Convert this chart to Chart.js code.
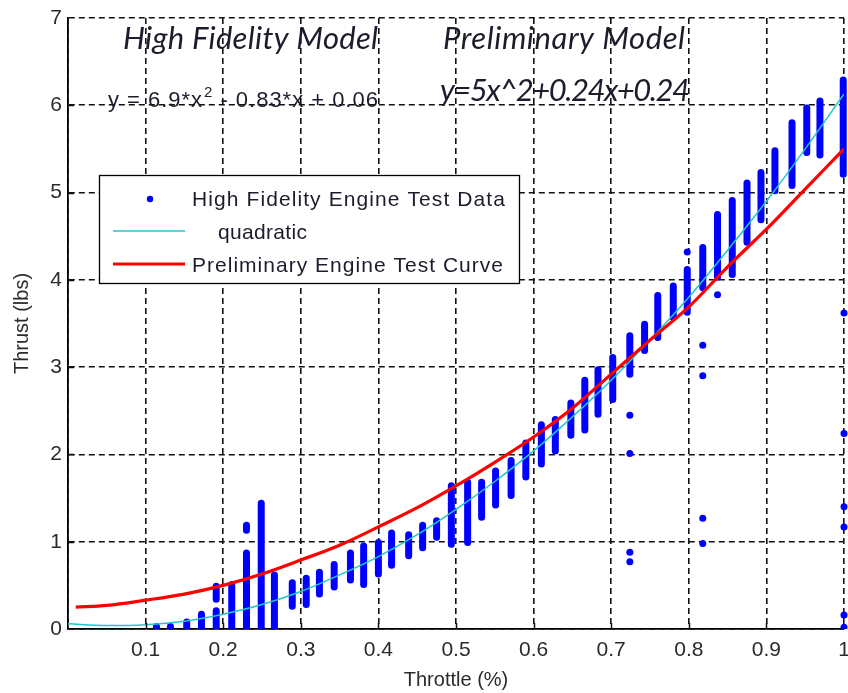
<!DOCTYPE html>
<html>
<head>
<meta charset="utf-8">
<script src="https://cdn.jsdelivr.net/npm/chart.js@4"></script>
<style>
  html, body { margin: 0; padding: 0; background: #fff; }
  #wrap { width: 848px; height: 693px; position: relative; }
</style>
</head>
<body>
<div id="wrap"><canvas id="c"></canvas></div>
<script>
// test data columns: throttle value, lowest and highest thrust reading in that column
const colX    = [0.114, 0.132, 0.153, 0.172, 0.191, 0.191, 0.211, 0.23, 0.23, 0.249, 0.266, 0.289, 0.307, 0.324, 0.343, 0.364, 0.381, 0.4, 0.417, 0.439, 0.457, 0.475, 0.494, 0.515, 0.533, 0.551, 0.571, 0.59, 0.61, 0.628, 0.648, 0.666, 0.683, 0.702, 0.724, 0.743, 0.76, 0.78, 0.798, 0.818, 0.837, 0.856, 0.875, 0.893, 0.911, 0.933, 0.952, 0.969, 0.999];
const colLow  = [0, 0, 0, 0, 0, 0.34, 0, 0, 1.13, 0, 0, 0.26, 0.28, 0.4, 0.48, 0.56, 0.51, 0.63, 0.73, 0.84, 0.93, 1.05, 0.97, 0.99, 1.28, 1.42, 1.53, 1.74, 1.89, 2.04, 2.22, 2.28, 2.46, 2.63, 2.92, 3.19, 3.34, 3.57, 3.63, 3.91, 4.03, 4.06, 4.43, 4.69, 5.02, 5.08, 5.46, 5.43, 5.21];
const colHigh = [0.03, 0.03, 0.08, 0.17, 0.21, 0.49, 0.51, 0.87, 1.19, 1.44, 0.62, 0.53, 0.58, 0.65, 0.74, 0.87, 0.95, 0.99, 1.1, 1.08, 1.19, 1.24, 1.64, 1.68, 1.68, 1.81, 1.93, 2.13, 2.34, 2.4, 2.59, 2.85, 2.97, 3.11, 3.36, 3.49, 3.82, 3.93, 4.12, 4.37, 4.75, 4.91, 5.11, 5.23, 5.48, 5.8, 5.97, 6.05, 6.29];

// stray test points
const outX = [0.724, 0.724, 0.724, 0.724, 0.798, 0.818, 0.818, 0.818, 0.818, 0.837, 1, 1, 1, 1, 1, 1];
const outY = [2.45, 2.01, 0.88, 0.77, 4.32, 3.25, 2.9, 1.27, 0.98, 3.83, 3.62, 2.24, 1.4, 1.17, 0.16, 0.02];

// fitted curves
const quadX = [0, 0.05, 0.1, 0.15, 0.2, 0.25, 0.3, 0.35, 0.4, 0.45, 0.5, 0.55, 0.6, 0.65, 0.7, 0.75, 0.8, 0.85, 0.9, 0.95, 1];
const quadY = [0.06, 0.04, 0.05, 0.09, 0.17, 0.28, 0.43, 0.62, 0.83, 1.08, 1.37, 1.69, 2.04, 2.43, 2.85, 3.31, 3.8, 4.34, 4.9, 5.5, 6.13];
const prelimX = [0.01, 0.05, 0.1, 0.15, 0.2, 0.25, 0.3, 0.35, 0.4, 0.45, 0.5, 0.55, 0.6, 0.65, 0.7, 0.75, 0.8, 0.85, 0.9, 0.95, 1];
const prelimY = [0.25, 0.27, 0.33, 0.4, 0.5, 0.63, 0.79, 0.96, 1.17, 1.39, 1.64, 1.91, 2.2, 2.53, 2.92, 3.31, 3.69, 4.15, 4.58, 5.04, 5.5];

const xTickVals = [0, 0.1, 0.2, 0.3, 0.4, 0.5, 0.6, 0.7, 0.8, 0.9, 1];
const xTickLabels = ['', '0.1', '0.2', '0.3', '0.4', '0.5', '0.6', '0.7', '0.8', '0.9', '1'];
const yTickVals = [0, 1, 2, 3, 4, 5, 6, 7];
const yTickLabels = ['0', '1', '2', '3', '4', '5', '6', '7'];

const SANS = '"Liberation Sans", Arial, sans-serif';
const INK = '#2b2b2b';
const NOTE = '#1c1c2c';

// each column becomes one thick segment, nulls break the line between columns
const colData = [];
for (let i = 0; i < colX.length; i += 1) {
  colData.push({ x: colX[i], y: colLow[i] });
  colData.push({ x: colX[i], y: colHigh[i] });
  colData.push({ x: colX[i], y: null });
}
const outData = outX.map((x, i) => ({ x, y: outY[i] }));
const quadData = quadX.map((x, i) => ({ x, y: quadY[i] }));
const prelimData = prelimX.map((x, i) => ({ x, y: prelimY[i] }));

// stretch text to a given width with letter spacing (matlab spreads its glyphs)
function fitText(c, text, x, y, w) {
  c.letterSpacing = '0px';
  const base = c.measureText(text).width;
  const sp = (w - base) / Math.max(text.length - 1, 1);
  c.letterSpacing = sp.toFixed(2) + 'px';
  c.fillText(text, x, y);
  c.letterSpacing = '0px';
}

const notes = {
  id: 'notes',
  beforeDatasetsDraw(chart) {
    const c = chart.ctx;
    c.save();
    c.fillStyle = NOTE;
    c.textBaseline = 'alphabetic';
    c.textAlign = 'left';
    c.font = 'italic 31px Lato';
    fitText(c, 'High Fidelity Model', 123, 49, 255);
    fitText(c, 'Preliminary Model', 443, 49, 242);
    fitText(c, 'y=5x^2+0.24x+0.24', 440, 101, 250);

    // plain equation with superscript, spread to the same width as the original
    const a = 'y = 6.9*x';
    const b = ' - 0.83*x + 0.06';
    c.letterSpacing = '0px';
    c.font = '22px ' + SANS;
    const wa = c.measureText(a).width;
    const wb = c.measureText(b).width;
    c.font = '15px ' + SANS;
    const w2 = c.measureText('2').width;
    const sp = (270 - wa - wb - w2 - 2) / (a.length + b.length - 1);
    c.letterSpacing = sp.toFixed(2) + 'px';
    let x = 108;
    c.font = '22px ' + SANS;
    c.fillText(a, x, 107);
    x += c.measureText(a).width + 1;
    c.font = '15px ' + SANS;
    c.fillText('2', x, 97);
    x += w2 + 1;
    c.font = '22px ' + SANS;
    c.fillText(b, x, 107);
    c.letterSpacing = '0px';
    c.restore();
  },
  afterDatasetsDraw(chart) {
    const c = chart.ctx;
    const { left, bottom } = chart.chartArea;
    c.save();
    // inward tick marks
    c.strokeStyle = '#111';
    c.lineWidth = 1.5;
    c.beginPath();
    const xs = chart.scales.x;
    const ys = chart.scales.y;
    for (const v of xTickVals.slice(1, -1)) {
      const px = Math.round(xs.getPixelForValue(v)) + 0.5;
      c.moveTo(px, bottom);
      c.lineTo(px, bottom - 6);
    }
    for (const v of yTickVals.slice(1, -1)) {
      const py = Math.round(ys.getPixelForValue(v)) + 0.5;
      c.moveTo(left, py);
      c.lineTo(left + 6, py);
    }
    c.stroke();

    // legend box
    c.fillStyle = '#fff';
    c.fillRect(99.5, 175.5, 420, 108);
    c.strokeStyle = '#000';
    c.lineWidth = 1.3;
    c.strokeRect(99.5, 175.5, 420, 108);

    c.fillStyle = '#0000ff';
    c.beginPath();
    c.arc(150, 199, 3.2, 0, Math.PI * 2);
    c.fill();

    c.strokeStyle = '#20c8c8';
    c.lineWidth = 1.5;
    c.beginPath();
    c.moveTo(113, 231);
    c.lineTo(185, 231);
    c.stroke();

    c.strokeStyle = '#ff0000';
    c.lineWidth = 3;
    c.beginPath();
    c.moveTo(113, 264);
    c.lineTo(185, 264);
    c.stroke();

    c.fillStyle = NOTE;
    c.font = '21px ' + SANS;
    c.textBaseline = 'middle';
    fitText(c, 'High Fidelity Engine Test Data', 192, 200, 313);
    fitText(c, 'quadratic', 218, 233, 89);
    fitText(c, 'Preliminary Engine Test Curve', 192, 266, 311);
    c.restore();
  },
};

const gridOpts = { color: '#111', lineWidth: 1.6, drawTicks: false };
const borderOpts = { display: true, color: '#000', width: 1.8, dash: [6, 4] };

new Chart(document.getElementById('c').getContext('2d'), {
  type: 'scatter',
  data: {
    datasets: [
      {
        label: 'High Fidelity Engine Test Data',
        data: colData,
        showLine: true,
        spanGaps: false,
        borderColor: '#0000ff',
        borderWidth: 7,
        borderCapStyle: 'round',
        pointRadius: 0,
        order: 3,
        clip: { left: 0, top: 0, right: 4, bottom: 0 },
      },
      {
        label: 'stray',
        data: outData,
        pointRadius: 3.5,
        backgroundColor: '#0000ff',
        borderWidth: 0,
        order: 3,
        clip: { left: 0, top: 0, right: 4, bottom: 0 },
      },
      {
        label: 'quadratic',
        data: quadData,
        showLine: true,
        borderColor: '#20c8c8',
        borderWidth: 1.5,
        pointRadius: 0,
        cubicInterpolationMode: 'monotone',
        order: 2,
      },
      {
        label: 'Preliminary Engine Test Curve',
        data: prelimData,
        showLine: true,
        borderColor: '#ff0000',
        borderWidth: 3.2,
        pointRadius: 0,
        cubicInterpolationMode: 'monotone',
        order: 1,
      },
    ],
  },
  options: {
    responsive: true,
    maintainAspectRatio: false,
    animation: false,
    layout: { padding: { top: 18, right: 1, left: 0, bottom: 0 } },
    plugins: { legend: { display: false }, tooltip: { enabled: false } },
    scales: {
      x: {
        type: 'linear',
        min: 0,
        max: 1,
        afterBuildTicks: (s) => { s.ticks = xTickVals.map((v) => ({ value: v })); },
        afterFit: (s) => { s.height = 64; s.paddingLeft = 0; s.paddingRight = 0; },
        ticks: {
          callback: (v, i) => xTickLabels[i],
          font: { family: SANS, size: 21 },
          color: INK,
          padding: 9,
          maxRotation: 0,
          autoSkip: false,
        },
        grid: gridOpts,
        border: borderOpts,
        title: { display: true, text: 'Throttle (%)', font: { family: SANS, size: 20 }, color: INK, padding: { top: 0, bottom: 1 } },
      },
      y: {
        type: 'linear',
        min: 0,
        max: 7,
        afterBuildTicks: (s) => { s.ticks = yTickVals.map((v) => ({ value: v })); },
        afterFit: (s) => { s.width = 68; s.paddingTop = 0; s.paddingBottom = 0; },
        ticks: {
          callback: (v, i) => yTickLabels[i],
          font: { family: SANS, size: 21 },
          color: INK,
          padding: 6,
          autoSkip: false,
        },
        grid: gridOpts,
        border: borderOpts,
        title: { display: true, text: 'Thrust (lbs)', font: { family: SANS, size: 20 }, color: INK, padding: { top: 10, bottom: 0 } },
      },
    },
  },
  plugins: [notes],
});
</script>
</body>
</html>
